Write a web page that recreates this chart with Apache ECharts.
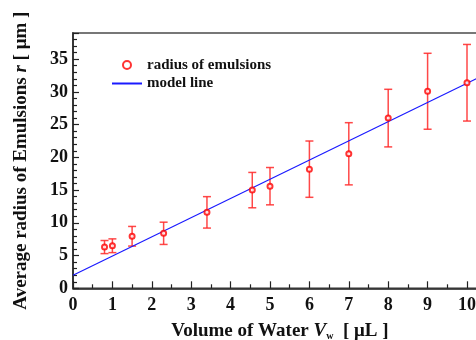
<!DOCTYPE html>
<html>
<head>
<meta charset="utf-8">
<script src="https://cdn.jsdelivr.net/npm/echarts@6/dist/echarts.min.js"></script>
<style>html,body{margin:0;padding:0;background:#fff}#c{width:476px;height:340px}</style>
</head>
<body>
<div id="c"></div>
<script>
// Data
var volumes = [0.8, 1.0, 1.5, 2.3, 3.4, 4.55, 5.0, 6.0, 7.0, 8.0, 9.0, 10.0];
var radiusMean = [6.3, 6.5, 7.95, 8.4, 11.6, 15.0, 15.6, 18.2, 20.55, 26.0, 30.1, 31.4];
var radiusErr = [1.0, 1.05, 1.5, 1.7, 2.4, 2.7, 2.85, 4.3, 4.75, 4.4, 5.8, 5.85];
var modelX = [0, 10.5];
var modelY = [2.0, 32.8];
var xTicks = [0, 1, 2, 3, 4, 5, 6, 7, 8, 9, 10];
var yTicks = [0, 5, 10, 15, 20, 25, 30, 35];

var pts = volumes.map(function (v, i) { return [v, radiusMean[i]]; });
var bars = volumes.map(function (v, i) { return [v, radiusMean[i] - radiusErr[i], radiusMean[i] + radiusErr[i]]; });
var model = modelX.map(function (v, i) { return [v, modelY[i]]; });

var FONT = '"Liberation Serif", "Times New Roman", serif';
var errColor = 'rgba(255,40,40,0.85)';

var chart = echarts.init(document.getElementById('c'), null, {renderer: 'canvas'});
chart.setOption({
  animation: false,
  backgroundColor: '#fff',
  grid: {left: 73, top: 33, right: -10.7, bottom: 51.7, containLabel: false, outerBoundsMode: 'none',
         show: true, borderColor: '#777', borderWidth: 2},
  legend: {
    orient: 'vertical', left: 106, top: 52.5, padding: 5, itemWidth: 30, itemHeight: 8, itemGap: 3.5,
    textStyle: {fontFamily: FONT, fontWeight: 'bold', fontSize: 15, color: '#111', lineHeight: 15},
    data: [
      {name: 'radius of emulsions'},
      {name: 'model line', itemStyle: {opacity: 0}}
    ]
  },
  xAxis: {
    type: 'value', min: 0, max: 10.5, interval: 1,
    name: '{n|Volume of Water }{v|V}{s|w}{n|  [ μL ]}',
    nameLocation: 'middle', nameGap: 33,
    nameTextStyle: {
      fontFamily: FONT, fontWeight: 'bold', fontSize: 19, color: '#111',
      rich: {
        n: {fontFamily: FONT, fontWeight: 'bold', fontSize: 19, color: '#111', lineHeight: 20},
        v: {fontFamily: FONT, fontWeight: 'bold', fontStyle: 'italic', fontSize: 19, color: '#111', lineHeight: 20},
        s: {fontFamily: FONT, fontWeight: 'bold', fontSize: 10, color: '#111', lineHeight: 20, verticalAlign: 'bottom', padding: [11, 0, 0, 0]}
      }
    },
    axisLine: {show: true, lineStyle: {color: '#222', width: 1.5}},
    axisTick: {show: true, inside: true, length: 7, lineStyle: {color: '#222', width: 1.2}},
    minorTick: {show: true, splitNumber: 2, length: 4, lineStyle: {color: '#222', width: 1.2}},
    splitLine: {show: false},
    axisLabel: {
      margin: 8, showMaxLabel: false, fontFamily: FONT, fontWeight: 'bold', fontSize: 18, color: '#111',
      formatter: function (v) { return xTicks.indexOf(v) >= 0 ? String(v) : ''; }
    }
  },
  yAxis: {
    type: 'value', min: 0, max: 39, interval: 5,
    name: '{n|Average radius of Emulsions }{v|r}{n| [ μm ]}',
    nameLocation: 'middle', nameGap: 42, nameRotate: 90,
    nameTextStyle: {
      fontFamily: FONT, fontWeight: 'bold', fontSize: 19, color: '#111',
      rich: {
        n: {fontFamily: FONT, fontWeight: 'bold', fontSize: 19, color: '#111'},
        v: {fontFamily: FONT, fontWeight: 'bold', fontStyle: 'italic', fontSize: 19, color: '#111'}
      }
    },
    axisLine: {show: true, lineStyle: {color: '#222', width: 1.5}},
    axisTick: {show: true, inside: true, length: 6, lineStyle: {color: '#222', width: 1.2}},
    minorTick: {show: true, splitNumber: 5, length: 4, lineStyle: {color: '#222', width: 1.2}},
    splitLine: {show: false},
    axisLabel: {
      margin: 5, showMaxLabel: false, fontFamily: FONT, fontWeight: 'bold', fontSize: 18, color: '#111',
      formatter: function (v) { return yTicks.indexOf(v) >= 0 ? String(v) : ''; }
    }
  },
  series: [
    {
      name: 'error', type: 'custom', data: bars, z: 3,
      encode: {x: 0, y: [1, 2]},
      renderItem: function (params, api) {
        var x = api.value(0), lo = api.value(1), hi = api.value(2);
        var pt = api.coord([x, hi]), pb = api.coord([x, lo]);
        var w = 4;
        var st = {stroke: errColor, lineWidth: 1.5, fill: null};
        return {type: 'group', children: [
          {type: 'line', shape: {x1: pt[0], y1: pt[1], x2: pb[0], y2: pb[1]}, style: st},
          {type: 'line', shape: {x1: pt[0] - w, y1: pt[1], x2: pt[0] + w, y2: pt[1]}, style: st},
          {type: 'line', shape: {x1: pb[0] - w, y1: pb[1], x2: pb[0] + w, y2: pb[1]}, style: st}
        ]};
      }
    },
    {
      name: 'model line', type: 'line', data: model, symbol: 'none', showSymbol: false, z: 4,
      lineStyle: {color: '#1a1aff', width: 1.2}, itemStyle: {color: '#1a1aff'}
    },
    {
      name: 'radius of emulsions', type: 'scatter', data: pts, z: 5,
      symbol: 'emptyCircle', symbolSize: 5,
      itemStyle: {color: '#ff0000', borderColor: '#ff0000', borderWidth: 1}
    }
  ]
});
</script>
</body>
</html>
